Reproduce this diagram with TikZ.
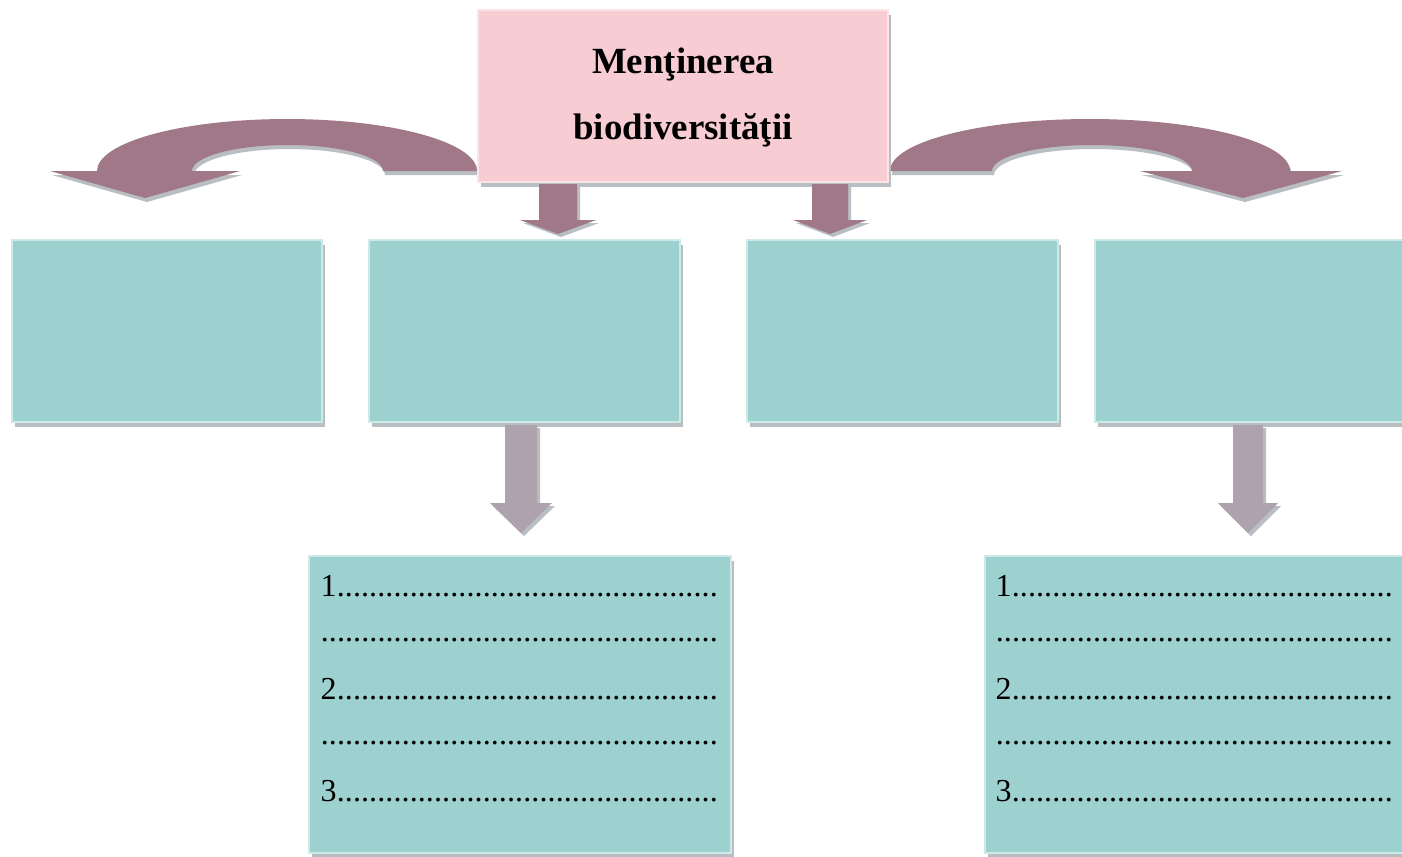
\documentclass[tikz,border=0pt]{standalone}
\usepackage{fontspec}
\setmainfont{Liberation Serif}
\usetikzlibrary{shadows}
\definecolor{mauve}{HTML}{A07888}
\definecolor{lmauve}{HTML}{AEA2AC}
\definecolor{shgray}{HTML}{B8BEC2}
\definecolor{pinkf}{HTML}{F7CDD3}
\definecolor{pinkb}{HTML}{FBE4E7}
\definecolor{tealf}{HTML}{9DD1CF}
\definecolor{tealb}{HTML}{CDEAE9}

\newcommand\dotrow[1]{\makebox[3.97cm][l]{#1\xleaders\hbox{.}\hfill}}

% colour, centre x, half shaft, top y, head top y, half head, tip y
\newcommand\mydownarrow[7]{%
  \fill[shgray,shift={(3,3)}] (#2-#3,#4) -- (#2+#3,#4) -- (#2+#3,#5) -- (#2+#6,#5) -- (#2,#7) -- (#2-#6,#5) -- (#2-#3,#5) -- cycle;
  \fill[#1] (#2-#3,#4) -- (#2+#3,#4) -- (#2+#3,#5) -- (#2+#6,#5) -- (#2,#7) -- (#2-#6,#5) -- (#2-#3,#5) -- cycle;
}

\newcommand\leftcurve{(477,171) .. controls (477,142.3) and (392,119) .. (287,119)
  .. controls (182,119) and (97,142.3) .. (97,171)
  -- (50,171) -- (145,198) -- (240,171) -- (192,171)
  .. controls (192,156.6) and (234.8,145) .. (287.5,145)
  .. controls (340.2,145) and (383,156.6) .. (383,171) -- cycle}

\newcommand\rightcurve{(890,171) .. controls (890,142.3) and (979.5,119) .. (1090,119)
  .. controls (1200.5,119) and (1290,142.3) .. (1290,171)
  -- (1342,171) -- (1243,198) -- (1140,171) -- (1192,171)
  .. controls (1192,156.6) and (1147.2,145) .. (1092,145)
  .. controls (1036.8,145) and (992,156.6) .. (992,171) -- cycle}

\begin{document}
\begin{tikzpicture}[x=0.01cm,y=-0.01cm,
  boxshadow/.style={drop shadow={shadow xshift=0.03cm,shadow yshift=-0.05cm,fill=shgray,opacity=1}},
  tealbox/.style={rectangle,fill=tealf,draw=tealb,line width=0.4pt,boxshadow,inner sep=0pt},
  titlebox/.style={rectangle,fill=pinkf,draw=pinkb,line width=0.4pt,boxshadow,inner sep=0pt},
  titletext/.style={anchor=base,inner sep=0pt,font=\fontsize{10.5pt}{12pt}\selectfont\bfseries},
  listtext/.style={anchor=base west,inner sep=0pt,font=\fontsize{9.1pt}{11pt}\selectfont}]
\useasboundingbox (0,0) rectangle (1402,856);
\fill[white] (0,0) rectangle (1402,856);

% curved arrows
\fill[shgray,shift={(2,4)}] \leftcurve;
\fill[mauve] \leftcurve;
\fill[shgray,shift={(2,4)}] \rightcurve;
\fill[mauve] \rightcurve;

% title box
\node[titlebox,minimum width=4.10cm,minimum height=1.72cm] (title) at (683,96) {};
\node[titletext] (t1) at (683,73) {Menţinerea};
\node[titletext] (t2) at (683,139) {biodiversităţii};

% small arrows below title
\mydownarrow{mauve}{558}{19}{184}{220}{38}{234}
\mydownarrow{mauve}{830}{18}{184}{220}{37}{234}

% first row boxes
\node[tealbox,minimum width=3.10cm,minimum height=1.82cm] (b1) at (167,331) {};
\node[tealbox,minimum width=3.11cm,minimum height=1.82cm] (b2) at (524.5,331) {};
\node[tealbox,minimum width=3.11cm,minimum height=1.82cm] (b3) at (902.5,331) {};
\node[tealbox,minimum width=3.11cm,minimum height=1.82cm] (b4) at (1250.5,331) {};

% lower arrows
\mydownarrow{lmauve}{521}{16}{425}{503}{31}{533}
\mydownarrow{lmauve}{1248}{15}{425}{503}{30}{533}

% lower boxes
\node[tealbox,minimum width=4.22cm,minimum height=2.97cm] (b5) at (520,704.5) {};
\node[tealbox,minimum width=4.22cm,minimum height=2.97cm] (b6) at (1196,704.5) {};

\node[listtext] (l1a) at (320,596) {\dotrow{1}};
\node[listtext] (l1b) at (320,641) {\dotrow{}};
\node[listtext] (l1c) at (320,699) {\dotrow{2}};
\node[listtext] (l1d) at (320,744) {\dotrow{}};
\node[listtext] (l1e) at (320,801) {\dotrow{3}};

\node[listtext] (l2a) at (995,596) {\dotrow{1}};
\node[listtext] (l2b) at (995,641) {\dotrow{}};
\node[listtext] (l2c) at (995,699) {\dotrow{2}};
\node[listtext] (l2d) at (995,744) {\dotrow{}};
\node[listtext] (l2e) at (995,801) {\dotrow{3}};
\end{tikzpicture}
\end{document}
